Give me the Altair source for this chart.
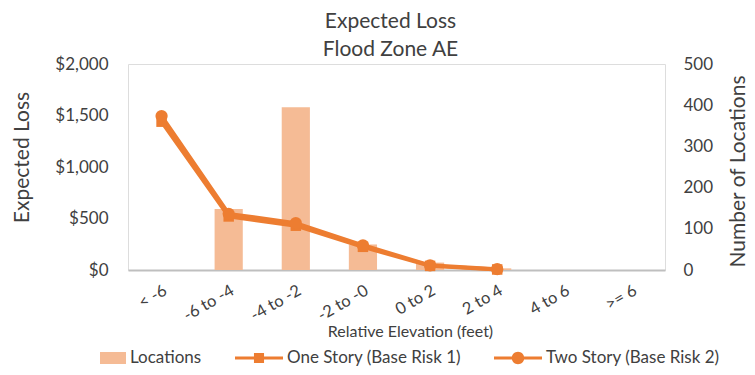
import altair as alt
import pandas as pd

categories = ["< -6", "-6 to -4", "-4 to -2", "-2 to -0", "0 to 2", "2 to 4", "4 to 6", ">= 6"]
locations = [0, 148, 395, 62, 18, 4, 0, 0]
one_story = [1440, 520, 430, 225, 40, 5]
two_story = [1495, 545, 455, 240, 45, 8]
series_names = ["Locations", "One Story (Base Risk 1)", "Two Story (Base Risk 2)"]
loss_ticks = [0, 500, 1000, 1500, 2000]
count_ticks = [0, 100, 200, 300, 400, 500]

FONT = "Lato"
TXT = "#404040"
ORANGE = "#ED7D31"
LIGHT = "#F5BB95"

bar_df = pd.DataFrame({"cat": categories, "count": locations})
n = len(one_story)
line_df = pd.DataFrame({
    "cat": categories[:n] + categories[:n],
    "loss": one_story + two_story,
    "series": [series_names[1]] * n + [series_names[2]] * n,
})
legend_df = pd.DataFrame({"series": series_names})

x_enc = alt.X(
    "cat:N", sort=categories,
    scale=alt.Scale(domain=categories, paddingInner=0.58, paddingOuter=0.29),
    axis=alt.Axis(title="Relative Elevation (feet)", labelAngle=-30, labelAlign="right",
                  labelBaseline="top", labelPadding=12, ticks=False, domainColor="#BFBFBF",
                  domainWidth=2, labelFont=FONT, labelFontSize=16.5, labelColor=TXT,
                  titleFont=FONT, titleFontSize=16, titleColor=TXT, titleFontWeight="normal",
                  titleBaseline="middle", titleY=61, titleX=282, grid=False),
)

y_loss = alt.Y(
    "loss:Q", scale=alt.Scale(domain=[0, 2000], nice=False),
    axis=alt.Axis(title="Expected Loss", orient="left", values=loss_ticks, format="$,.0f",
                  domain=False, ticks=False, grid=False, labelPadding=20,
                  labelFont=FONT, labelFontSize=17, labelColor=TXT,
                  titleFont=FONT, titleFontSize=21, titleColor=TXT, titleFontWeight="normal",
                  titleX=-106, titleY=93, titleBaseline="middle", titleAngle=-90),
)

bars = alt.Chart(bar_df).mark_bar(color=LIGHT).encode(
    x=x_enc,
    y=alt.Y("count:Q", scale=alt.Scale(domain=[0, 500], nice=False),
            axis=alt.Axis(title="Number of Locations", orient="right", values=count_ticks,
                          domain=False, ticks=False, grid=False, labelPadding=18,
                          labelFont=FONT, labelFontSize=17, labelColor=TXT,
                          titleFont=FONT, titleFontSize=21, titleColor=TXT,
                          titleFontWeight="normal", titleX=73, titleY=107,
                          titleBaseline="middle", titleAngle=-90)),
)

lines = alt.Chart(line_df).mark_line(color=ORANGE, strokeWidth=4).encode(
    x=x_enc, y=y_loss, detail="series:N",
)
squares = alt.Chart(line_df).transform_filter(
    alt.datum.series == series_names[1]
).mark_point(shape="square", filled=True, color=ORANGE, size=110, opacity=1).encode(
    x=x_enc, y=y_loss,
)
circles = alt.Chart(line_df).transform_filter(
    alt.datum.series == series_names[2]
).mark_point(shape="circle", filled=True, color=ORANGE, size=150, opacity=1).encode(
    x=x_enc, y=y_loss,
)

loss_layer = alt.layer(lines, squares, circles)

rect_path = "M-0.083,-0.25 L1,-0.25 L1,0.25 L-0.083,0.25 Z"
sq_path = ("M-1,-0.0625 L1,-0.0625 L1,0.0625 L-1,0.0625 Z "
           "M-0.21,-0.21 L0.21,-0.21 L0.21,0.21 L-0.21,0.21 Z")
ci_path = ("M-1,-0.0625 L1,-0.0625 L1,0.0625 L-1,0.0625 Z "
           "M0.26,0 A0.26,0.26 0 1,1 -0.26,0 A0.26,0.26 0 1,1 0.26,0 Z")

legend_layer = alt.Chart(legend_df).transform_filter("false").mark_point(
    filled=True, opacity=1, size=2304, strokeWidth=0
).encode(
    shape=alt.Shape("series:N", scale=alt.Scale(domain=series_names,
                                                range=[rect_path, sq_path, ci_path]),
                    legend=alt.Legend(title=None)),
    color=alt.Color("series:N", scale=alt.Scale(domain=series_names,
                                                range=[LIGHT, ORANGE, ORANGE]),
                    legend=alt.Legend(title=None, orient="none", direction="horizontal",
                                      columns=3, legendX=-50, legendY=270,
                                      symbolSize=2304, symbolStrokeWidth=0,
                                      symbolOpacity=1, labelOffset=4, columnPadding=33,
                                      gridAlign="none", padding=0,
                                      labelFont=FONT, labelFontSize=17, labelColor=TXT,
                                      labelLimit=400)),
)

chart = alt.layer(bars, loss_layer, legend_layer).resolve_scale(
    y="independent"
).properties(
    width=537, height=206,
    autosize=alt.AutoSizeParams(type="none"),
    padding={"left": 120, "top": 56, "right": 82, "bottom": 97},
    title=alt.Title(["Expected Loss", "Flood Zone AE"], font=FONT, fontSize=21,
                    color=TXT, fontWeight="normal", anchor="middle", offset=2,
                    lineHeight=28, dx=-6, dy=7),
).configure_view(stroke=None).configure(background="white")

chart.save("out.html", embed_options={"renderer": "svg", "actions": False})
